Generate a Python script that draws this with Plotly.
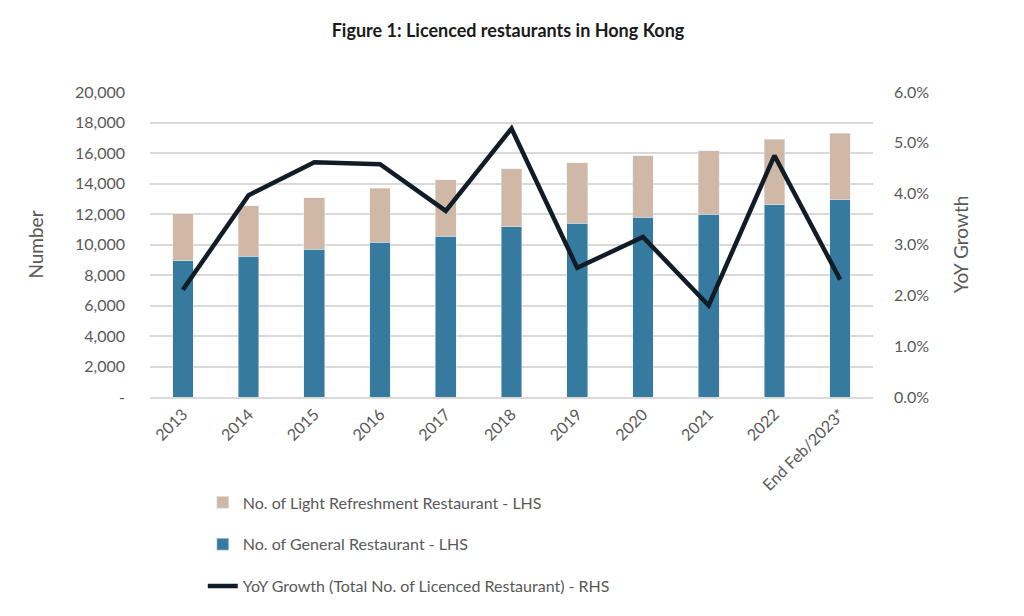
import plotly.graph_objects as go

# Licenced restaurants in Hong Kong
years = ["2013", "2014", "2015", "2016", "2017", "2018", "2019", "2020",
         "2021", "2022", "End Feb/2023*"]
general = [8920, 9230, 9690, 10140, 10540, 11170, 11390, 11780, 12000, 12620, 12920]
light_refreshment = [3110, 3300, 3390, 3550, 3720, 3800, 3980, 4050, 4160, 4280, 4390]
yoy_growth = [2.11, 3.97, 4.62, 4.58, 3.66, 5.28, 2.54, 3.15, 1.80, 4.75, 2.31]

left_ticks = [0, 2000, 4000, 6000, 8000, 10000, 12000, 14000, 16000, 18000, 20000]
left_ticktext = ["-", "2,000", "4,000", "6,000", "8,000", "10,000", "12,000",
                 "14,000", "16,000", "18,000", "20,000"]

FONT = "Lato"
GREY = "#595959"

fig = go.Figure()

fig.add_trace(go.Bar(
    x=years, y=general,
    name="No. of General Restaurant - LHS",
    marker_color="#367b9f",
    legendgroup="g", legendrank=2,
))
fig.add_trace(go.Bar(
    x=years, y=light_refreshment,
    name="No. of Light Refreshment Restaurant - LHS",
    marker_color="#cfb9a6",
    legendgroup="l", legendrank=1,
))
fig.add_trace(go.Scatter(
    x=years, y=yoy_growth,
    name="YoY Growth (Total No. of Licenced Restaurant) - RHS",
    mode="lines",
    line=dict(color="#111c27", width=4.5),
    yaxis="y2",
    legendgroup="y", legendrank=3,
))

# the page body adds an 8px margin, so the figure is a bit smaller than the window
fig.update_layout(
    width=1000, height=600,
    barmode="stack",
    bargap=0.685,
    plot_bgcolor="white",
    paper_bgcolor="white",
    font=dict(family=FONT, color=GREY, size=16),
    margin=dict(l=142, r=135, t=84, b=211, autoexpand=False),
    title=dict(
        text="<b>Figure 1: Licenced restaurants in Hong Kong</b>",
        x=0.5, xanchor="center", y=0.963, yanchor="middle",
        font=dict(family=FONT, size=18, color="#1a1a1a"),
    ),
    xaxis=dict(
        tickangle=-45,
        showgrid=False,
        showline=True, linecolor="#d9d9d9", linewidth=1.5,
        tickfont=dict(size=16, color=GREY),
        automargin=False,
    ),
    yaxis=dict(
        range=[0, 20000],
        tickvals=left_ticks, ticktext=left_ticktext,
        showgrid=True, gridcolor="#d9d9d9", gridwidth=1.5,
        zeroline=False,
        ticklabelstandoff=24,
        automargin=False,
        title=dict(text="Number", font=dict(size=19, color=GREY), standoff=26),
    ),
    yaxis2=dict(
        overlaying="y", side="right",
        range=[0, 6], dtick=1,
        ticksuffix="%", tickformat=".1f",
        showgrid=False, zeroline=False,
        ticklabelstandoff=20,
        automargin=False,
        title=dict(text="YoY Growth", font=dict(size=19, color=GREY), standoff=26),
    ),
    legend=dict(
        orientation="v",
        x=0.073, xanchor="left",
        y=-0.29, yanchor="top",
        traceorder="grouped",
        tracegroupgap=18,
        font=dict(size=16, color=GREY),
        bgcolor="rgba(0,0,0,0)",
    ),
)

fig.write_html("out.html")
